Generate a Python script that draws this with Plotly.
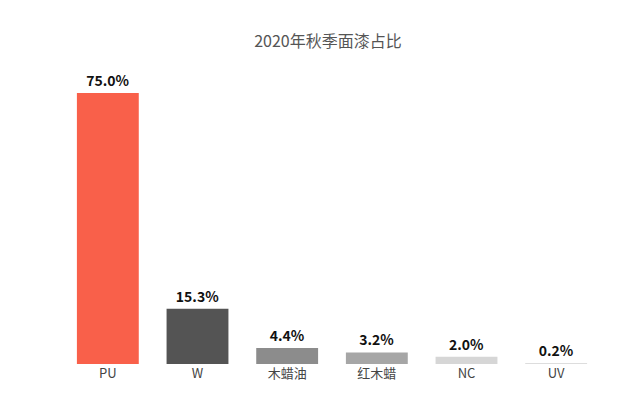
import plotly.graph_objects as go

categories = ["PU", "W", "木蜡油", "红木蜡", "NC", "UV"]
values = [75.0, 15.3, 4.4, 3.2, 2.0, 0.2]
labels = ["<b>75.0%</b>", "<b>15.3%</b>", "<b>4.4%</b>", "<b>3.2%</b>", "<b>2.0%</b>", "<b>0.2%</b>"]
colors = ["#F9604A", "#545454", "#8C8C8C", "#A6A6A6", "#D6D6D6", "#DDDDDD"]

fig = go.Figure(go.Bar(
    x=categories, y=values, text=labels, textposition="outside",
    marker=dict(color=colors, line=dict(width=0)), width=0.69,
    textfont=dict(size=14, color="#111111", family="Noto Sans CJK SC"),
    cliponaxis=False,
))
fig.update_layout(
    width=640, height=404, margin=dict(l=55, r=47, t=85, b=48),
    paper_bgcolor="white", plot_bgcolor="white",
    title=dict(text="2020年秋季面漆占比", x=0.5, xanchor="center", y=0.93,
               font=dict(size=16, color="#555555", family="Noto Sans CJK SC")),
    xaxis=dict(showline=False, showgrid=False, ticks="",
               tickfont=dict(size=13, color="#444444", family="Noto Sans CJK SC")),
    yaxis=dict(visible=False, range=[0, 75]),
    showlegend=False, bargap=0.31,
)
fig.write_html("out.html")
